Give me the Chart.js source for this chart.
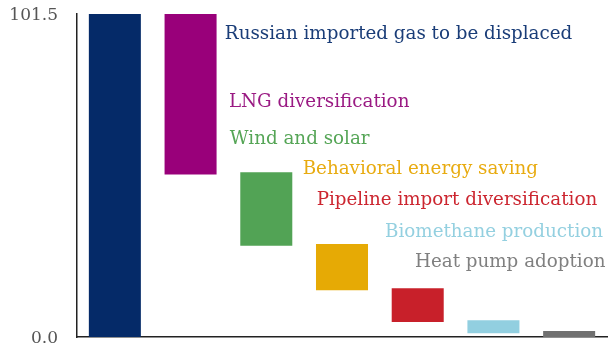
<!DOCTYPE html>
<html>
<head>
<meta charset="utf-8">
<script src="https://cdn.jsdelivr.net/npm/chart.js@4.4.0/dist/chart.umd.min.js"></script>
<style>
  html, body { margin: 0; padding: 0; background: #fff; }
  #wrap { width: 610px; height: 347px; }
</style>
</head>
<body>
<div id="wrap"><canvas id="chart"></canvas></div>
<script>
// data
const categories = [
    "Russian imported gas to be displaced",
    "LNG diversification",
    "Wind and solar",
    "Behavioral energy saving",
    "Pipeline import diversification",
    "Biomethane production",
    "Heat pump adoption"
];
const barBottoms = [0, 51.1, 28.7, 14.7, 4.7, 1.2, 0];
const barTops = [101.5, 101.5, 51.8, 29.2, 15.3, 5.3, 1.9];
const yTicks = [0, 101.5];

const colors = ["#052a68", "#99007a", "#52a355", "#e6aa05", "#c8202a", "#92cfe0", "#707070"];
const textColors = ["#1a3d78", "#9a1a83", "#55a556", "#e8ab10", "#cc2630", "#94d0e0", "#808080"];

// label anchors (category index, value) for the text next to the bars
const labelX = [1.453, 1.506, 1.519, 2.480, 2.665, 3.568, 3.964];
const labelY = [93.56, 72.37, 60.65, 51.23, 41.49, 31.52, 22.09];

const serif = "'DejaVu Serif', 'Liberation Serif', serif";

const labelPlugin = {
    id: "barLabels",
    afterDatasetsDraw(chart) {
        const ctx = chart.ctx;
        const x = chart.scales.x, y = chart.scales.y;
        ctx.save();
        ctx.font = "18.3px " + serif;
        ctx.textAlign = "left";
        ctx.textBaseline = "alphabetic";
        categories.forEach((name, i) => {
            ctx.fillStyle = textColors[i];
            ctx.fillText(name, x.getPixelForValue(labelX[i]), y.getPixelForValue(labelY[i]));
        });
        ctx.restore();
    }
};

const ctx = document.getElementById("chart").getContext("2d");
new Chart(ctx, {
    type: "bar",
    data: {
        labels: categories,
        datasets: [{
            data: categories.map((c, i) => [barBottoms[i], barTops[i]]),
            backgroundColor: colors,
            borderWidth: 0,
            barPercentage: 0.687,
            categoryPercentage: 1
        }]
    },
    options: {
        responsive: true,
        maintainAspectRatio: false,
        animation: false,
        layout: { padding: { top: 14, right: 3, bottom: 10, left: 0 } },
        plugins: {
            legend: { display: false },
            tooltip: { enabled: false }
        },
        scales: {
            x: {
                grid: { display: false },
                ticks: { display: false },
                border: { display: true, color: "#222", width: 1.5 },
                afterFit: s => { s.height = 0; s.paddingLeft = 0; s.paddingRight = 0; }
            },
            y: {
                min: 0,
                max: 101.5,
                afterBuildTicks: s => { s.ticks = yTicks.map(v => ({ value: v })); },
                grid: { display: false },
                border: { display: true, color: "#222", width: 1.5 },
                ticks: {
                    padding: 11,
                    labelOffset: 2,
                    color: "#555",
                    font: { family: serif, size: 17 },
                    callback: v => v.toFixed(1)
                },
                afterFit: s => { s.width = 77; s.paddingTop = 0; s.paddingBottom = 0; }
            }
        }
    },
    plugins: [labelPlugin]
});
</script>
</body>
</html>
